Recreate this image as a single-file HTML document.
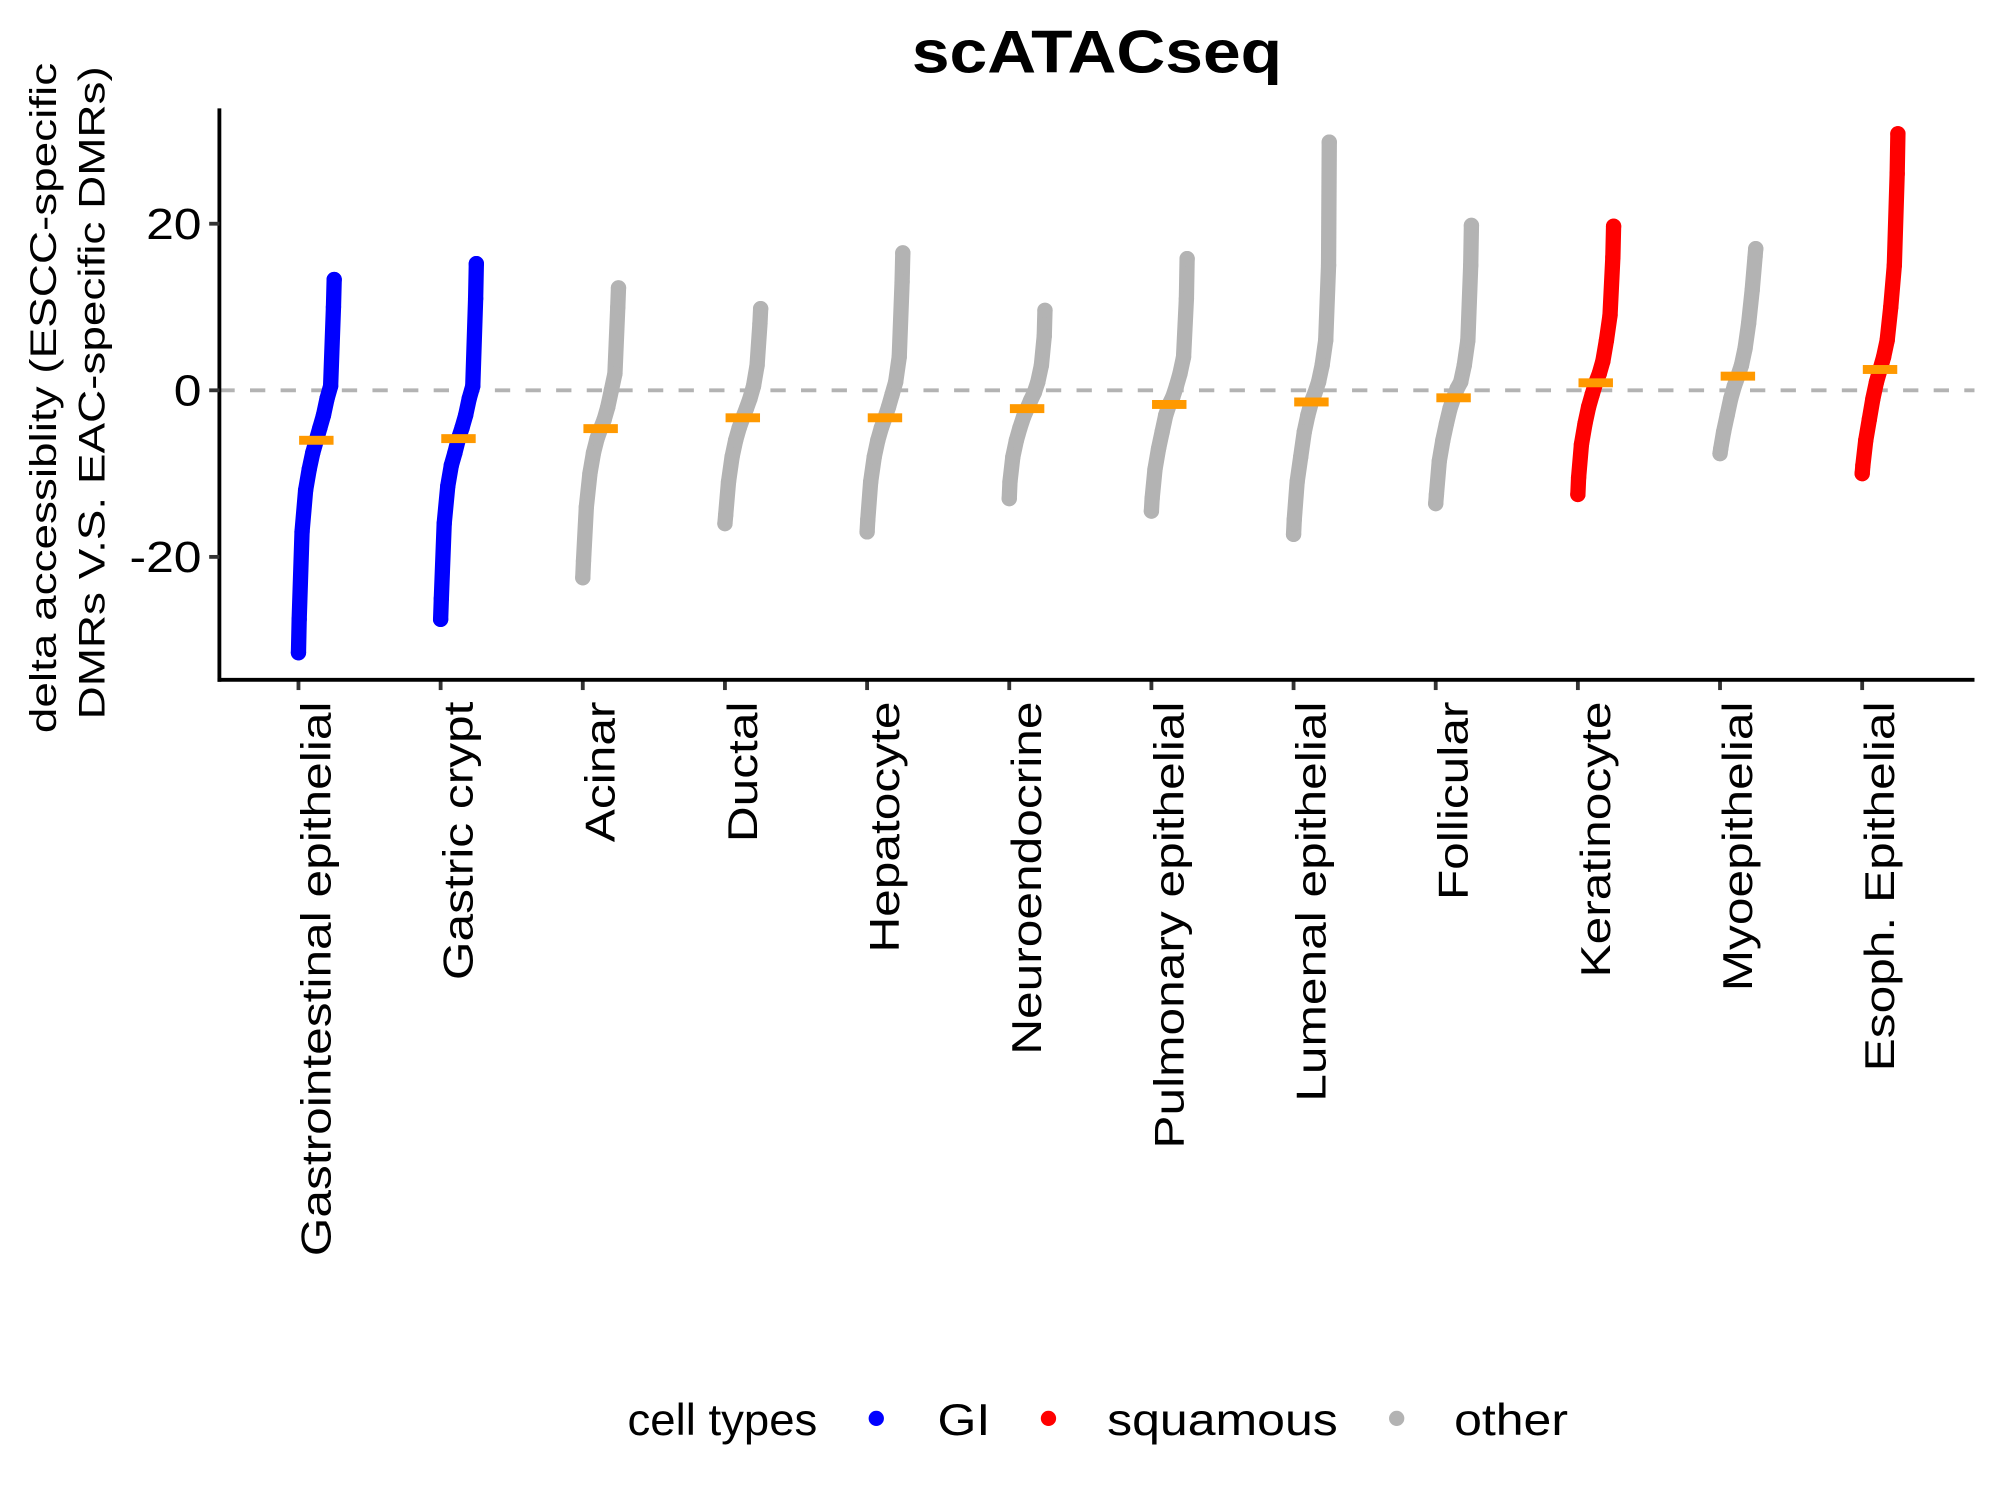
<!DOCTYPE html>
<html><head><meta charset="utf-8"><style>
html,body{margin:0;padding:0;background:#fff;}
svg{display:block;font-family:"Liberation Sans",Arial,sans-serif;}
</style></head><body>
<svg id="chart" width="2000" height="1500" viewBox="0 0 1568 1176" xmlns="http://www.w3.org/2000/svg">
<text transform="translate(860,57) scale(1.13,1)" text-anchor="middle" font-size="47" font-weight="bold">scATACseq</text>
<g font-size="29">
<text transform="translate(44,312) rotate(-90) scale(1.24,1)" text-anchor="middle">delta accessiblity (ESCC-specific</text>
<text transform="translate(82,308) rotate(-90) scale(1.24,1)" text-anchor="middle">DMRs V.S. EAC-specific DMRs)</text>
</g>
<g id="plot"></g>
<g id="axes"></g>
<g font-size="35">
<text transform="translate(492,1125) scale(1.02,1)">cell types</text>
<circle cx="687" cy="1112" r="6" fill="#0000ff"/>
<text transform="translate(735,1125) scale(1.12,1)">GI</text>
<circle cx="822" cy="1112" r="6" fill="#ff0000"/>
<text transform="translate(868,1125) scale(1.12,1)">squamous</text>
<circle cx="1095" cy="1112" r="6" fill="#b3b3b3"/>
<text transform="translate(1140,1125) scale(1.12,1)">other</text>
</g>
</svg>
<script>
const categories = ["Gastrointestinal epithelial","Gastric crypt","Acinar","Ductal","Hepatocyte","Neuroendocrine","Pulmonary epithelial","Lumenal epithelial","Follicular","Keratinocyte","Myoepithelial","Esoph. Epithelial"];
const groups = ["GI","GI","other","other","other","other","other","other","other","squamous","other","squamous"];
const rankFractions = [0,0.02,0.1,0.2,0.3,0.4,0.5,0.6,0.7,0.8,0.9,0.98,1];
const qGI = [-31.5,-27.5,-17,-12,-9.5,-7.5,-6,-4.5,-3,-1,0.5,10,13.3];
const qGastric = [-27.5,-25,-16,-11.5,-9,-7.5,-5.8,-4.5,-3,-1,0.5,11,15.2];
const qAcinar = [-22.5,-20.5,-14,-10,-7.5,-5.8,-4.6,-3.5,-2,0,2,10,12.3];
const qDuctal = [-16,-15,-11,-8,-6,-4.5,-3.3,-2.2,-1,0.5,3,8,9.8];
const qHepato = [-17,-15.5,-11,-8,-6,-4.5,-3.3,-2,-0.5,1,4,13,16.5];
const qNeuro = [-13,-11,-8,-6,-4.5,-3.2,-2.2,-1.2,-0.3,1,3,6.5,9.6];
const qPulm = [-14.5,-13,-9.5,-7,-5,-3,-1.7,-0.8,0.5,2,4,11,15.8];
const qLumenal = [-17.3,-15.5,-11,-8,-5,-3,-1.4,-0.3,1,3,6,15,29.8];
const qFollic = [-13.6,-12.5,-8.5,-6,-4,-2.2,-0.9,0.2,1,3,6,15,19.8];
const qKerat = [-12.5,-10.5,-6.5,-4,-2,-0.5,0.9,2,3.5,6,9,16,19.7];
const qMyo = [-7.6,-7,-5,-3,-1,0.5,1.7,3,5,8,12,16,17];
const qEsoph = [-10,-9,-6,-3.5,-1,1,2.5,4,6,10,15,26,30.8];
const quantiles = [qGI,qGastric,qAcinar,qDuctal,qHepato,qNeuro,qPulm,qLumenal,qFollic,qKerat,qMyo,qEsoph];
const medians = [-6,-5.8,-4.6,-3.3,-3.3,-2.2,-1.7,-1.4,-0.9,0.9,1.7,2.5];
const yTicks = [-20,0,20];

const NS="http://www.w3.org/2000/svg";
const colors={GI:"#0000ff",squamous:"#ff0000",other:"#b3b3b3"};
const x0=172,x1=1548,yTop=85,yBot=533;
function yScale(v){return 306 - v*6.53;}
function xScale(i){return 234 + i*111.45;}
const jitterW=28;
function mk(tag,attrs,parent){const e=document.createElementNS(NS,tag);for(const k in attrs)e.setAttribute(k,attrs[k]);parent.appendChild(e);return e;}
const plot=document.getElementById('plot');
const axes=document.getElementById('axes');
const zl=mk('line',{x1:x0,x2:x1,y1:yScale(0),y2:yScale(0),stroke:'#b3b3b3','stroke-width':3,'stroke-dasharray':'12,12'},plot);


categories.forEach((c,i)=>{
  const col=colors[groups[i]];
  const g=mk('g',{},plot);
  
  
  const q=quantiles[i];
  const pts=q.map((v,k)=>[xScale(i)+rankFractions[k]*jitterW,yScale(v)]);
  const pl=mk('polyline',{points:pts.map(p=>p.join(',')).join(' '),fill:'none',stroke:col,'stroke-width':12,'stroke-linecap':'round','stroke-linejoin':'round'},g);
  
  
  pts.forEach(p=>{
    const d=mk('circle',{cx:p[0],cy:p[1],r:6,fill:col},g);
    
    
  });
  const m=mk('rect',{x:xScale(i)+jitterW/2-13.5,y:yScale(medians[i])-3.5,width:27,height:7,fill:'#ff9900'},g);
  
  
  const t=mk('line',{x1:xScale(i),x2:xScale(i),y1:yBot,y2:yBot+8,stroke:'#333','stroke-width':3},axes);
  
  
  const lb=mk('text',{transform:`translate(${xScale(i)+25},${yBot+17}) rotate(-90) scale(1.18,1)`,'text-anchor':'end','font-size':33},axes);
  lb.textContent=c;
  
  
});
const ya=mk('line',{x1:x0,x2:x0,y1:yTop,y2:yBot+1.5,stroke:'#000','stroke-width':3},axes);


const xa=mk('line',{x1:x0-1.5,x2:x1,y1:yBot,y2:yBot,stroke:'#000','stroke-width':3},axes);


yTicks.forEach(v=>{
  const t=mk('line',{x1:x0-8,x2:x0,y1:yScale(v),y2:yScale(v),stroke:'#333','stroke-width':3},axes);
  
  
  const lb=mk('text',{transform:`translate(${x0-14},${yScale(v)+12}) scale(1.15,1)`,'text-anchor':'end','font-size':34},axes);
  lb.textContent=v;
  
  
});
</script>
</body></html>
